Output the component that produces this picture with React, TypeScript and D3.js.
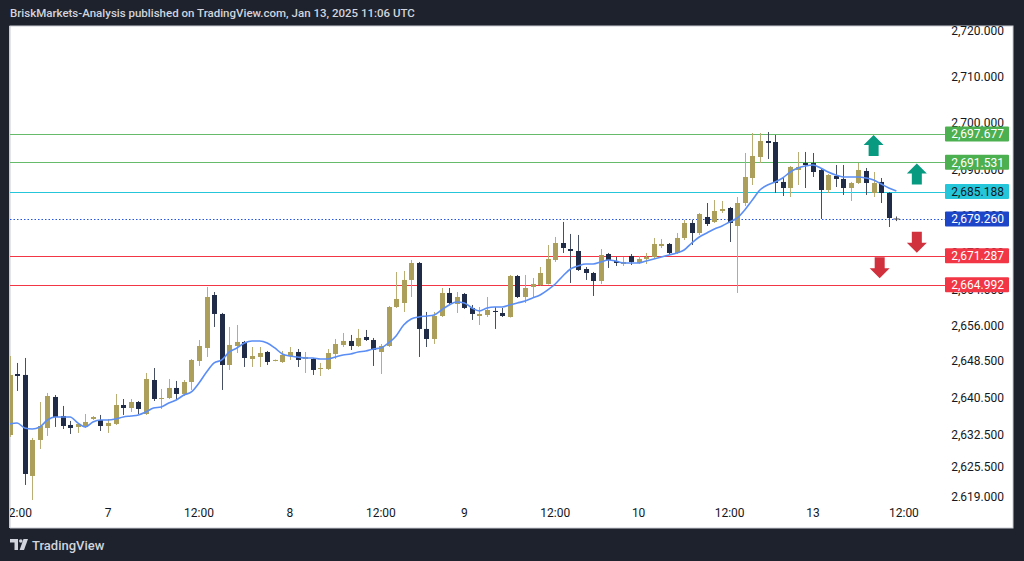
import React from "react";
import * as d3 from "d3";

const opens = [
  2632.44, 2645.66, 2645.45, 2623.56, 2631.36, 2633.96, 2640.68, 2636.56, 2634.61, 2634.18,
  2634.18, 2635.91, 2635.69, 2634.39, 2634.83, 2638.94, 2638.29, 2639.59, 2636.99, 2644.36,
  2640.24, 2640.46, 2642.63, 2641.33, 2643.93, 2648.48, 2651.30, 2662.78, 2658.67, 2647.61,
  2651.73, 2652.60, 2648.91, 2649.35, 2650.43, 2648.48, 2648.26, 2649.56, 2650.43, 2648.91,
  2648.91, 2646.75, 2646.75, 2650.00, 2651.95, 2652.82, 2651.73, 2653.68, 2653.03, 2650.43,
  2651.73, 2660.18, 2661.05, 2666.04, 2669.72, 2655.42, 2653.25, 2658.23, 2663.22, 2660.83,
  2663.00, 2659.97, 2658.23, 2658.45, 2659.32, 2658.88, 2658.01, 2666.90, 2662.35, 2664.52,
  2664.95, 2665.17, 2670.37, 2674.05, 2672.75, 2672.32, 2668.42, 2667.55, 2665.82, 2671.67,
  2670.15, 2669.50, 2671.24, 2669.72, 2670.59, 2671.02, 2673.40, 2673.84, 2671.89, 2675.14,
  2678.39, 2676.22, 2679.69, 2678.61, 2680.99, 2681.64, 2677.74, 2682.72, 2688.14, 2692.69,
  2696.16, 2695.94, 2687.28, 2685.97, 2689.88, 2691.39, 2691.39, 2689.88, 2685.54, 2688.58,
  2687.93, 2685.97, 2687.06, 2689.66, 2684.89, 2687.28, 2684.89, 2679.30,
];
const highs = [
  2649.56, 2648.05, 2649.13, 2631.80, 2639.59, 2641.55, 2641.11, 2638.73, 2635.48, 2635.05,
  2636.99, 2636.56, 2636.78, 2635.91, 2641.33, 2640.24, 2640.24, 2639.81, 2645.88, 2646.96,
  2642.41, 2644.58, 2644.15, 2644.36, 2648.91, 2653.03, 2664.52, 2663.43, 2658.90, 2655.85,
  2656.28, 2652.82, 2651.51, 2651.51, 2650.65, 2648.80, 2650.65, 2651.51, 2651.08, 2650.43,
  2649.13, 2648.05, 2651.08, 2653.25, 2654.55, 2654.12, 2655.42, 2655.20, 2653.47, 2652.16,
  2660.40, 2667.77, 2667.99, 2670.37, 2669.94, 2659.10, 2659.10, 2664.30, 2664.30, 2663.43,
  2663.22, 2660.62, 2660.18, 2662.35, 2660.18, 2659.97, 2667.12, 2667.12, 2667.12, 2666.47,
  2668.85, 2673.62, 2675.36, 2678.61, 2676.01, 2675.79, 2668.85, 2667.77, 2672.75, 2671.89,
  2671.02, 2671.02, 2671.67, 2671.24, 2671.89, 2675.14, 2674.92, 2674.05, 2676.22, 2679.04,
  2679.04, 2680.56, 2682.72, 2683.37, 2683.16, 2681.86, 2684.02, 2693.56, 2697.89, 2697.89,
  2698.11, 2697.46, 2688.14, 2690.74, 2693.78, 2693.78, 2693.56, 2690.09, 2689.00, 2690.96,
  2690.96, 2687.28, 2691.39, 2690.31, 2689.44, 2688.14, 2685.10, 2679.80,
];
const lows = [
  2632.01, 2641.98, 2621.61, 2618.35, 2629.41, 2632.23, 2634.18, 2633.74, 2632.66, 2632.88,
  2633.96, 2635.69, 2633.31, 2632.88, 2634.60, 2636.78, 2637.43, 2636.99, 2636.78, 2639.81,
  2638.08, 2640.24, 2640.24, 2640.89, 2642.20, 2647.40, 2649.35, 2655.85, 2642.20, 2646.53,
  2650.21, 2647.18, 2647.18, 2647.18, 2647.61, 2648.40, 2648.05, 2648.70, 2647.18, 2645.88,
  2645.45, 2645.23, 2646.53, 2648.91, 2651.51, 2650.86, 2651.51, 2652.82, 2647.40, 2645.66,
  2651.51, 2659.97, 2659.10, 2662.35, 2649.35, 2651.51, 2652.17, 2658.01, 2660.83, 2658.88,
  2659.75, 2657.37, 2656.28, 2658.01, 2655.42, 2658.01, 2657.90, 2662.13, 2661.05, 2662.35,
  2664.84, 2665.06, 2669.94, 2671.89, 2665.39, 2667.98, 2666.04, 2662.57, 2665.17, 2668.64,
  2669.07, 2669.07, 2669.29, 2669.50, 2669.50, 2670.59, 2672.97, 2671.67, 2671.67, 2674.70,
  2673.62, 2675.79, 2677.74, 2678.39, 2680.56, 2674.27, 2663.22, 2682.07, 2686.62, 2691.39,
  2692.26, 2684.89, 2684.24, 2684.02, 2686.62, 2685.97, 2688.36, 2679.26, 2684.89, 2686.19,
  2684.46, 2683.16, 2686.84, 2684.46, 2684.02, 2682.72, 2677.52, 2678.80,
];
const closes = [
  2645.45, 2645.23, 2623.99, 2631.36, 2634.39, 2640.89, 2636.34, 2634.39, 2633.96, 2634.83,
  2635.26, 2636.34, 2634.39, 2635.05, 2638.94, 2638.29, 2639.59, 2638.08, 2644.58, 2640.24,
  2640.46, 2642.63, 2641.33, 2643.93, 2648.70, 2651.73, 2662.35, 2658.67, 2647.61, 2651.95,
  2652.60, 2649.13, 2649.56, 2650.21, 2648.26, 2648.70, 2649.78, 2650.43, 2648.70, 2649.35,
  2646.53, 2646.96, 2650.21, 2652.16, 2652.82, 2651.73, 2653.47, 2653.03, 2650.86, 2651.73,
  2660.18, 2661.92, 2666.04, 2669.72, 2655.42, 2653.25, 2658.23, 2663.22, 2661.05, 2662.35,
  2659.97, 2658.67, 2658.67, 2659.53, 2659.10, 2658.23, 2666.90, 2662.35, 2664.30, 2665.17,
  2667.55, 2670.59, 2674.05, 2672.97, 2672.32, 2668.20, 2667.55, 2665.82, 2671.45, 2670.37,
  2669.72, 2669.94, 2669.94, 2670.59, 2671.02, 2673.84, 2673.84, 2671.89, 2675.14, 2678.39,
  2676.22, 2680.34, 2678.17, 2680.99, 2681.42, 2678.39, 2682.72, 2688.36, 2692.91, 2696.16,
  2695.73, 2687.06, 2685.97, 2690.53, 2690.53, 2690.96, 2689.44, 2685.54, 2688.79, 2687.93,
  2685.97, 2687.06, 2689.88, 2687.06, 2687.06, 2684.89, 2679.47, 2679.26,
];
const maValues = [
  2634.83, 2635.05, 2633.96, 2633.74, 2634.18, 2635.69, 2636.34, 2636.34, 2636.34, 2635.05,
  2634.18, 2635.26, 2635.69, 2635.69, 2635.91, 2636.34, 2636.56, 2636.78, 2637.43, 2638.29,
  2638.51, 2639.38, 2640.02, 2641.11, 2641.76, 2643.71, 2646.09, 2648.05, 2648.70, 2650.43,
  2651.30, 2652.38, 2652.82, 2652.82, 2652.38, 2651.30, 2650.00, 2649.56, 2649.35, 2649.13,
  2649.13, 2648.91, 2648.91, 2649.35, 2649.78, 2650.00, 2650.43, 2650.65, 2651.08, 2651.30,
  2652.38, 2653.90, 2656.28, 2657.58, 2658.01, 2658.23, 2658.45, 2659.53, 2660.62, 2661.27,
  2661.05, 2659.97, 2659.32, 2659.97, 2660.18, 2660.18, 2660.62, 2661.05, 2661.48, 2662.13,
  2662.78, 2663.87, 2665.17, 2666.90, 2668.42, 2669.07, 2669.50, 2669.50, 2669.94, 2670.37,
  2670.15, 2669.72, 2669.72, 2669.72, 2670.15, 2670.59, 2671.02, 2671.45, 2671.89, 2672.54,
  2674.05, 2675.36, 2676.22, 2677.09, 2677.74, 2678.61, 2679.47, 2681.21, 2683.37, 2685.54,
  2686.62, 2687.28, 2688.14, 2689.44, 2690.31, 2690.74, 2690.96, 2690.31, 2689.44, 2688.79,
  2688.36, 2688.36, 2688.36, 2688.14, 2687.71, 2686.84, 2685.97, 2685.32,
];

const xTickIndex = [1, 13, 25, 37, 49, 60, 72, 83, 95, 106, 118];
const xTickLabels = ["12:00", "7", "12:00", "8", "12:00", "9", "12:00", "10", "12:00", "13", "12:00"];
const yTickValues = [2720, 2710, 2700, 2690, 2680, 2672, 2664, 2656, 2648.5, 2640.5, 2632.5, 2625.5, 2619];

const levelPrices = [2697.677, 2691.531, 2685.188, 2679.26, 2671.287, 2664.992];
const levelKinds = ["green", "green", "cyan", "last", "red", "red"];

const upArrowIndex = [114, 119.7];
const upArrowPrice = [2695.2, 2689.0];
const downArrowIndex = [119.7, 114.8];
const downArrowPrice = [2674.2, 2668.7];

const KIND_STYLE: Record<string, { line: string; bg: string; text: string; dash?: string }> = {
  green: { line: "#66bb6a", bg: "#4caf50", text: "#ffffff" },
  cyan: { line: "#26c6da", bg: "#26c6da", text: "#131722" },
  last: { line: "#2453e0", bg: "#1c45c8", text: "#ffffff", dash: "1.5,2" },
  red: { line: "#f23645", bg: "#f23645", text: "#ffffff" },
};

const W = 1024;
const H = 561;
const PANEL = { x0: 10, x1: 1013, y0: 26, y1: 528 };
const PLOT = { x0: 10, x1: 945, y0: 26, y1: 501 };
const FONT = "Roboto, 'Noto Sans', Arial, sans-serif";

const OLIVE = "#ab9f5b";
const OLIVE_WICK = "#b9af74";
const DARK = "#1f2b47";
const DARK_WICK = "#474f63";

export default function App() {
  const x = d3.scaleLinear().domain([0, 117]).range([9.5, 9.5 + 7.58 * 117]);
  const y = d3.scaleLinear().domain([2619, 2720]).range([497, 31]);
  const fmt = d3.format(",.3f");
  const bodyW = 5;

  const maLine = d3
    .line<number>()
    .x((_, i) => x(i))
    .y((d) => y(d))
    .curve(d3.curveMonotoneX)(maValues) as string;

  const upPath = (cx: number, cy: number) =>
    `M${cx},${cy - 10.5} L${cx + 10},${cy - 0.5} L${cx + 5},${cy - 0.5} L${cx + 5},${cy + 10.5} L${cx - 5},${cy + 10.5} L${cx - 5},${cy - 0.5} L${cx - 10},${cy - 0.5} Z`;
  const downPath = (cx: number, cy: number) =>
    `M${cx},${cy + 10.5} L${cx + 10},${cy + 0.5} L${cx + 5},${cy + 0.5} L${cx + 5},${cy - 10.5} L${cx - 5},${cy - 10.5} L${cx - 5},${cy + 0.5} L${cx - 10},${cy + 0.5} Z`;

  return (
    <div style={{ position: "fixed", left: 0, top: 0, width: W, height: H }}>
      <svg width={W} height={H} style={{ display: "block" }} fontFamily={FONT}>
        <defs>
          <clipPath id="plotClip">
            <rect x={PLOT.x0} y={PLOT.y0} width={PLOT.x1 - PLOT.x0} height={PLOT.y1 - PLOT.y0} />
          </clipPath>
          <clipPath id="axisClip">
            <rect x={945} y={PANEL.y0} width={68} height={501 - PANEL.y0} />
          </clipPath>
        </defs>
        <rect x={0} y={0} width={W} height={H} fill="#1e222d" />
        <text x={10} y={17} fill="#d1d4dc" fontSize={11.5} fontWeight={500}>
          BriskMarkets-Analysis published on TradingView.com, Jan 13, 2025 11:06 UTC
        </text>
        <rect
          x={PANEL.x0}
          y={PANEL.y0}
          width={PANEL.x1 - PANEL.x0}
          height={PANEL.y1 - PANEL.y0}
          fill="#ffffff"
          stroke="#c9ccd4"
          strokeWidth={1}
        />

        {/* price axis labels (some partly hidden by the level badges, as in the original) */}
        <g clipPath="url(#axisClip)">
          {yTickValues.map((v) => (
            <text key={v} x={1004} y={y(v)} dy="0.35em" textAnchor="end" fontSize={12} fill="#131722">
              {fmt(v)}
            </text>
          ))}
        </g>

        <g clipPath="url(#plotClip)">
          {levelPrices.map((p, k) => {
            const st = KIND_STYLE[levelKinds[k]];
            return (
              <line
                key={"l" + k}
                x1={PLOT.x0}
                x2={PLOT.x1}
                y1={Math.round(y(p)) + 0.5}
                y2={Math.round(y(p)) + 0.5}
                stroke={st.line}
                strokeWidth={1}
                strokeDasharray={st.dash}
              />
            );
          })}

          {opens.map((o, i) => {
            const c = closes[i];
            const up = c >= o;
            const cx = Math.round(x(i)) + 0.5;
            const top = y(Math.max(o, c));
            const bot = y(Math.min(o, c));
            if (i === opens.length - 1) {
              return (
                <g key={"c" + i} stroke="#50535e" strokeWidth={1}>
                  <line x1={cx} x2={cx} y1={y(highs[i])} y2={y(lows[i])} />
                  <line x1={cx - 3} x2={cx + 3} y1={y(c)} y2={y(c)} />
                </g>
              );
            }
            return (
              <g key={"c" + i}>
                <line
                  x1={cx}
                  x2={cx}
                  y1={y(highs[i])}
                  y2={y(lows[i])}
                  stroke={up ? OLIVE_WICK : DARK_WICK}
                  strokeWidth={1}
                />
                <rect
                  x={cx - bodyW / 2}
                  y={top}
                  width={bodyW}
                  height={Math.max(1, bot - top)}
                  fill={up ? OLIVE : DARK}
                />
              </g>
            );
          })}

          <path d={maLine} fill="none" stroke="#5b8ef5" strokeWidth={1.6} />

          {upArrowIndex.map((ai, k) => (
            <path key={"u" + k} d={upPath(x(ai), y(upArrowPrice[k]))} fill="#089981" />
          ))}
          {downArrowIndex.map((ai, k) => (
            <path key={"d" + k} d={downPath(x(ai), y(downArrowPrice[k]))} fill="#d1303d" />
          ))}
        </g>

        {levelPrices.map((p, k) => {
          const st = KIND_STYLE[levelKinds[k]];
          const cy = y(p);
          return (
            <g key={"b" + k}>
              <rect x={945} y={cy - 7.5} width={64} height={15} fill={st.bg} rx={1} />
              <text x={1004} y={cy} dy="0.36em" textAnchor="end" fontSize={12} fill={st.text}>
                {fmt(p)}
              </text>
            </g>
          );
        })}

        <g>
          {xTickIndex.map((ti, k) => (
            <text
              key={"t" + k}
              x={x(ti)}
              y={513}
              dy="0.35em"
              textAnchor="middle"
              fontSize={12}
              fill="#131722"
            >
              {xTickLabels[k]}
            </text>
          ))}
        </g>
        <rect x={0} y={500} width={PANEL.x0} height={PANEL.y1 - 500 + 1} fill="#1e222d" />
        <line x1={PANEL.x0 - 0.5} x2={PANEL.x0 - 0.5} y1={PANEL.y0} y2={PANEL.y1} stroke="#c9ccd4" />

        <g fill="#d1d4dc">
          <path d="M10,539 H18 V550 H14.5 V542.5 H10 Z" />
          <circle cx={20.8} cy={541} r={1.8} />
          <path d="M23.5,539 H28 L24,550 H19.6 Z" />
        </g>
        <text x={32} y={549.5} fill="#d1d4dc" fontSize={13} fontWeight={500}>
          TradingView
        </text>
      </svg>
    </div>
  );
}
